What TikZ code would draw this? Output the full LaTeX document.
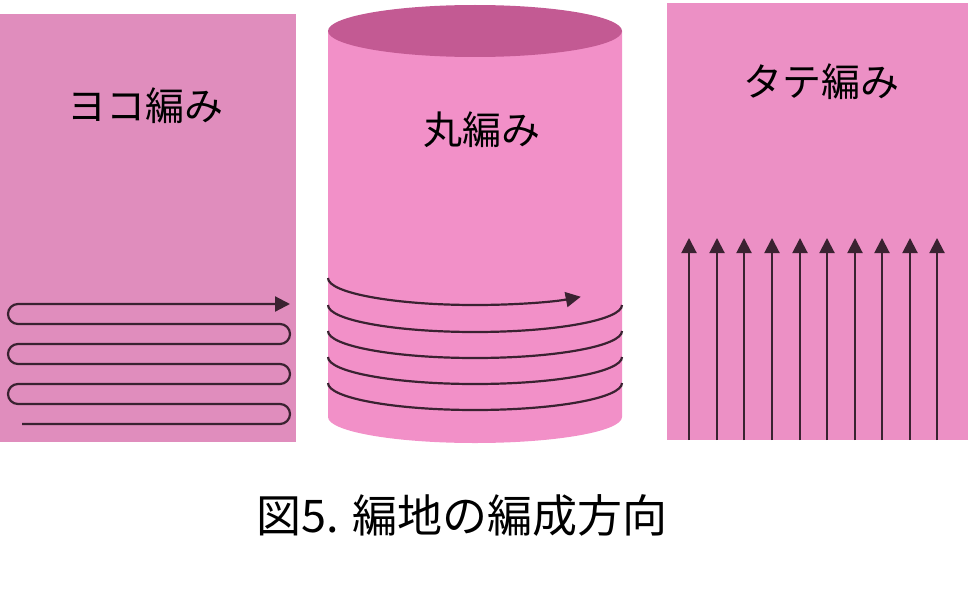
\documentclass[tikz,border=0pt]{standalone}
\usepackage{fontspec}
\setmainfont{Noto Sans CJK JP}
\usetikzlibrary{arrows.meta}

\definecolor{yokoPink}{HTML}{E08DBD}
\definecolor{maruPink}{HTML}{F290C8}
\definecolor{maruTop}{HTML}{C35A93}
\definecolor{tatePink}{HTML}{EC90C5}
\definecolor{yarnDark}{HTML}{3A2231}

\begin{document}
\begin{tikzpicture}[x=1pt, y=-1pt,
    yarn/.style={yarnDark, line width=2.2pt},
    yarnTip/.style={-{Triangle[length=15pt, width=15pt]}},
    label/.style={font=\fontsize{39}{39}\selectfont, inner sep=0pt}]
    \useasboundingbox (0,0) rectangle (968,594);

    % left panel
    \fill[yokoPink] (0,14) rectangle (296,442);
    \draw[yarn, yarnTip] (22,424) -- (280,424) arc[start angle=90, end angle=-90, radius=10]
        -- (18,404) arc[start angle=90, end angle=270, radius=10]
        -- (280,384) arc[start angle=90, end angle=-90, radius=10]
        -- (18,364) arc[start angle=90, end angle=270, radius=10]
        -- (280,344) arc[start angle=90, end angle=-90, radius=10]
        -- (18,324) arc[start angle=90, end angle=270, radius=10]
        -- (290,304);
    \node[label] (yoko) at (145,106) {ヨコ編み};

    % middle cylinder
    \fill[maruPink] (328,31) -- (328,417) arc[start angle=180, end angle=0, x radius=147, y radius=26] -- (622,31) -- cycle;
    \fill[maruTop] (475,31) ellipse[x radius=147, y radius=26];
    \draw[yarn, yarnTip] (328,278) arc[start angle=180, end angle=44, x radius=147, y radius=27];
    \draw[yarn] (328,305) arc[start angle=180, end angle=0, x radius=147, y radius=27];
    \draw[yarn] (328,331) arc[start angle=180, end angle=0, x radius=147, y radius=27];
    \draw[yarn] (328,357) arc[start angle=180, end angle=0, x radius=147, y radius=27];
    \draw[yarn] (328,383) arc[start angle=180, end angle=0, x radius=147, y radius=27];
    \node[label] (maru) at (482,130) {丸編み};

    % right panel
    \fill[tatePink] (667,3) rectangle (968,440);
    \draw[yarn, line width=2pt, yarnTip] (689,440) -- (689,238);
    \draw[yarn, line width=2pt, yarnTip] (717,440) -- (717,238);
    \draw[yarn, line width=2pt, yarnTip] (744,440) -- (744,238);
    \draw[yarn, line width=2pt, yarnTip] (772,440) -- (772,238);
    \draw[yarn, line width=2pt, yarnTip] (800,440) -- (800,238);
    \draw[yarn, line width=2pt, yarnTip] (827,440) -- (827,238);
    \draw[yarn, line width=2pt, yarnTip] (855,440) -- (855,238);
    \draw[yarn, line width=2pt, yarnTip] (882,440) -- (882,238);
    \draw[yarn, line width=2pt, yarnTip] (910,440) -- (910,238);
    \draw[yarn, line width=2pt, yarnTip] (937,440) -- (937,238);
    \node[label] (tate) at (821,82) {タテ編み};

    % caption
    \node[inner sep=0pt, font=\fontsize{45}{45}\selectfont] (caption) at (462,515) {図5. 編地の編成方向};
\end{tikzpicture}
\end{document}
